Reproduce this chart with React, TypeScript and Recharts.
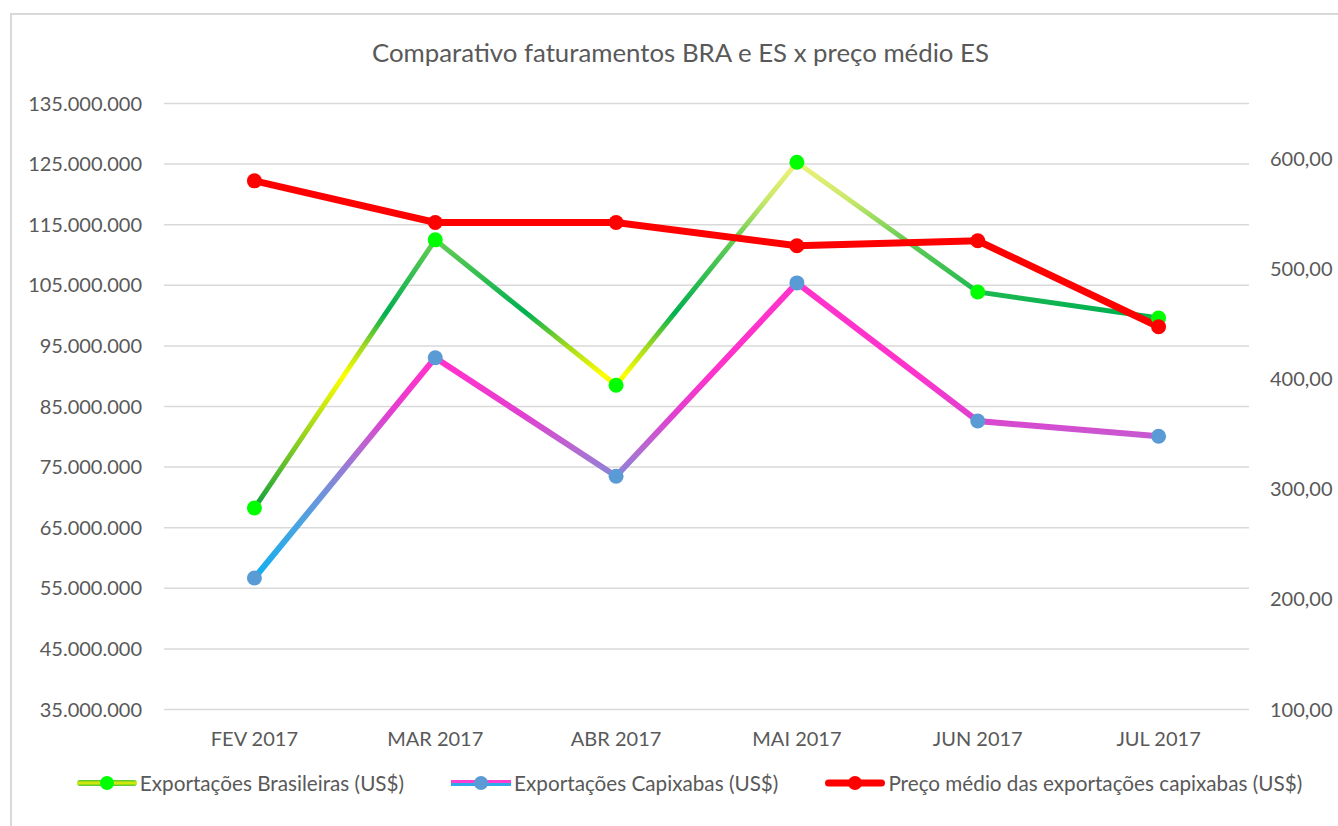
import React from 'react';
import { LineChart, Line, XAxis, YAxis, CartesianGrid, Legend } from 'recharts';

const categories = ['FEV 2017', 'MAR 2017', 'ABR 2017', 'MAI 2017', 'JUN 2017', 'JUL 2017'];
const exportacoesBrasileiras = [68250000, 112500000, 88500000, 125300000, 103900000, 99600000];
const exportacoesCapixabas = [56700000, 93050000, 73500000, 105400000, 82600000, 80100000];
const precoMedio = [579.8, 542.0, 542.0, 520.9, 525.4, 447.4];
const leftTicks = [35000000, 45000000, 55000000, 65000000, 75000000, 85000000, 95000000, 105000000, 115000000, 125000000, 135000000];
const rightTicks = [100, 200, 300, 400, 500, 600];
const seriesNames = ['Exportações Brasileiras (US$)', 'Exportações Capixabas (US$)', 'Preço médio das exportações capixabas (US$)'];
const title = 'Comparativo faturamentos BRA e ES x preço médio ES';

const data = categories.map((c, i) => ({
  cat: c,
  bra: exportacoesBrasileiras[i],
  es: exportacoesCapixabas[i],
  preco: precoMedio[i],
}));

const FONT = 'Lato, "Open Sans", sans-serif';
const TXT = '#595959';

const fmtLeft = (v: number) => String(Math.round(v)).replace(/\B(?=(\d{3})+(?!\d))/g, '.');
const fmtRight = (v: number) => v.toFixed(2).replace('.', ',');

const LegendIcon = ({ kind }: { kind: number }) => {
  if (kind === 0) {
    return (
      <svg width={60} height={16}>
        <defs>
          <linearGradient id="legBra" x1="0" y1="0" x2="0" y2="1">
            <stop offset="0" stopColor="#4cc43a" />
            <stop offset="0.5" stopColor="#e8f000" />
            <stop offset="1" stopColor="#4cc43a" />
          </linearGradient>
        </defs>
        <rect x={0} y={5} width={60} height={6} fill="url(#legBra)" rx={3} />
        <circle cx={30} cy={8} r={7} fill="#00ff00" />
      </svg>
    );
  }
  if (kind === 1) {
    return (
      <svg width={60} height={16}>
        <rect x={0} y={5} width={60} height={3} fill="#ff3fcf" />
        <rect x={0} y={8} width={60} height={3} fill="#2ea9ea" />
        <circle cx={30} cy={8} r={7} fill="#5b9bd5" />
      </svg>
    );
  }
  return (
    <svg width={60} height={16}>
      <rect x={0} y={4.5} width={60} height={7} fill="#ff0000" rx={3.5} />
      <circle cx={30} cy={8} r={7} fill="#ff0000" />
    </svg>
  );
};

const renderLegend = () => (
  <div
    style={{
      display: 'flex',
      justifyContent: 'center',
      alignItems: 'center',
      gap: 47,
      fontFamily: FONT,
      fontSize: 20.7,
      color: TXT,
      whiteSpace: 'nowrap',
    }}
  >
    {seriesNames.map((n, i) => (
      <div key={n} style={{ display: 'flex', alignItems: 'center', gap: 3 }}>
        <LegendIcon kind={i} />
        <span>{n}</span>
      </div>
    ))}
  </div>
);

export default function App() {
  return (
    <div style={{ position: 'absolute', left: 0, top: 0, width: 1338, height: 826, background: '#fff', overflow: 'hidden' }}>
      <div
        style={{
          position: 'absolute',
          left: 10,
          top: 13,
          width: 1400,
          height: 900,
          borderLeft: '2px solid #d9d9d9',
          borderTop: '2px solid #d9d9d9',
        }}
      />
      <div
        style={{
          position: 'absolute',
          left: 0,
          width: 1361,
          top: 35,
          textAlign: 'center',
          fontFamily: FONT,
          fontSize: 25.8,
          color: TXT,
          lineHeight: '34px',
        }}
      >
        {title}
      </div>
      <div style={{ position: 'absolute', left: 0, top: 0 }}>
        <LineChart
          width={1338}
          height={826}
          data={data}
          margin={{ top: 103.5, right: 0, bottom: 76.5, left: 0 }}
        >
          <defs>
            <linearGradient id="gradBra" x1="0" y1="0" x2="0" y2="1">
              <stop offset="0" stopColor="#f0f27a" />
              <stop offset="0.11" stopColor="#c8e868" />
              <stop offset="0.225" stopColor="#66cc55" />
              <stop offset="0.436" stopColor="#00b050" />
              <stop offset="0.53" stopColor="#9ed820" />
              <stop offset="0.616" stopColor="#ffff00" />
              <stop offset="0.803" stopColor="#90d020" />
              <stop offset="1" stopColor="#10a040" />
            </linearGradient>
            <linearGradient id="gradEs" x1="0" y1="0" x2="0" y2="1">
              <stop offset="0" stopColor="#ff33cc" />
              <stop offset="0.3" stopColor="#ff33cc" />
              <stop offset="0.45" stopColor="#e040d0" />
              <stop offset="0.56" stopColor="#b868d0" />
              <stop offset="0.654" stopColor="#8a84d8" />
              <stop offset="0.803" stopColor="#4da3e0" />
              <stop offset="1" stopColor="#10b0f0" />
            </linearGradient>
          </defs>
          <CartesianGrid vertical={false} stroke="#d9d9d9" strokeWidth={1.5} yAxisId="left" />
          <XAxis
            dataKey="cat"
            scale="band"
            axisLine={false}
            tickLine={false}
            tickSize={0}
            tickMargin={22}
            height={40}
            interval={0}
            tick={{ fill: TXT, fontSize: 20, fontFamily: FONT }}
          />
          <YAxis
            yAxisId="left"
            orientation="left"
            width={164}
            domain={[35000000, 135000000]}
            ticks={leftTicks}
            tickFormatter={fmtLeft}
            axisLine={false}
            tickLine={false}
            tickSize={0}
            tickMargin={22}
            interval={0}
            tick={{ fill: TXT, fontSize: 20, fontFamily: FONT }}
          />
          <YAxis
            yAxisId="right"
            orientation="right"
            width={89}
            domain={[100, 650]}
            ticks={rightTicks}
            tickFormatter={fmtRight}
            axisLine={false}
            tickLine={false}
            tickSize={0}
            tickMargin={21}
            interval={0}
            tick={{ fill: TXT, fontSize: 20, fontFamily: FONT }}
          />
          <Legend verticalAlign="middle" content={renderLegend} wrapperStyle={{ left: 41, top: 771, width: 1297 }} />
          <Line
            yAxisId="left"
            dataKey="bra"
            name={seriesNames[0]}
            stroke="url(#gradBra)"
            strokeWidth={5}
            dot={{ r: 7.5, fill: '#00ff00', stroke: 'none' }}
            isAnimationActive={false}
          />
          <Line
            yAxisId="left"
            dataKey="es"
            name={seriesNames[1]}
            stroke="url(#gradEs)"
            strokeWidth={6}
            dot={{ r: 7.5, fill: '#5b9bd5', stroke: 'none' }}
            isAnimationActive={false}
          />
          <Line
            yAxisId="right"
            dataKey="preco"
            name={seriesNames[2]}
            stroke="#ff0000"
            strokeWidth={7}
            dot={{ r: 7.5, fill: '#ff0000', stroke: 'none' }}
            isAnimationActive={false}
          />
        </LineChart>
      </div>
    </div>
  );
}
